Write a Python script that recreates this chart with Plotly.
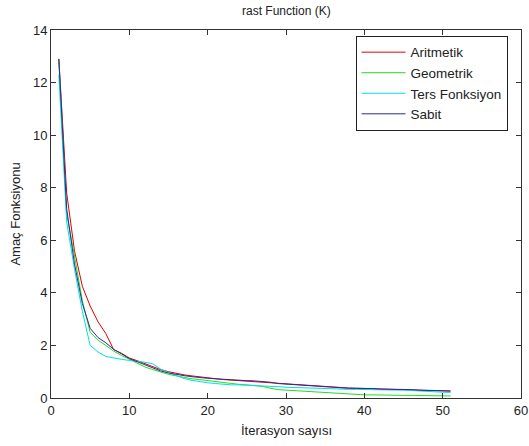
import plotly.graph_objects as go

iterations = list(range(1, 52))

aritmetik = [12.9, 7.8, 5.6, 4.25, 3.5, 2.9, 2.45, 1.84, 1.7, 1.52,
             1.42, 1.3, 1.2, 1.08, 1.0, 0.93, 0.88, 0.84, 0.8, 0.76,
             0.73, 0.7, 0.68, 0.66, 0.64, 0.62, 0.6, 0.57, 0.54, 0.52,
             0.5, 0.48, 0.47, 0.45, 0.43, 0.42, 0.4, 0.38, 0.37, 0.36,
             0.35, 0.34, 0.34, 0.33, 0.32, 0.31, 0.3, 0.29, 0.28, 0.27, 0.26]

geometrik = [12.8, 7.0, 5.4, 3.7, 2.5, 2.2, 2.0, 1.78, 1.62, 1.47,
             1.32, 1.18, 1.08, 0.98, 0.9, 0.84, 0.78, 0.73, 0.7, 0.66,
             0.62, 0.58, 0.55, 0.52, 0.5, 0.47, 0.44, 0.37, 0.32, 0.3,
             0.28, 0.26, 0.25, 0.22, 0.2, 0.18, 0.16, 0.14, 0.13, 0.12,
             0.12, 0.11, 0.11, 0.1, 0.1, 0.1, 0.09, 0.09, 0.09, 0.08, 0.08]

ters = [12.3, 6.7, 4.9, 3.3, 2.0, 1.75, 1.58, 1.52, 1.47, 1.43,
        1.4, 1.36, 1.3, 1.1, 0.97, 0.84, 0.74, 0.67, 0.62, 0.58,
        0.55, 0.52, 0.5, 0.5, 0.49, 0.48, 0.47, 0.45, 0.43, 0.41,
        0.4, 0.38, 0.36, 0.35, 0.34, 0.34, 0.33, 0.33, 0.33, 0.32,
        0.32, 0.31, 0.31, 0.3, 0.3, 0.28, 0.27, 0.25, 0.23, 0.22, 0.21]

sabit = [12.9, 7.2, 5.1, 3.6, 2.65, 2.3, 2.1, 1.85, 1.68, 1.5,
         1.38, 1.26, 1.13, 1.03, 0.95, 0.89, 0.85, 0.81, 0.77, 0.75,
         0.73, 0.71, 0.68, 0.67, 0.66, 0.65, 0.63, 0.6, 0.55, 0.53,
         0.52, 0.5, 0.48, 0.44, 0.43, 0.42, 0.4, 0.37, 0.37, 0.37,
         0.36, 0.34, 0.34, 0.34, 0.33, 0.32, 0.3, 0.29, 0.28, 0.28, 0.27]

series_names = ["Aritmetik", "Geometrik", "Ters Fonksiyon", "Sabit"]
series_values = [aritmetik, geometrik, ters, sabit]
series_colors = ["#e00000", "#22dd22", "#00e0e0", "#2a2a9a"]

x_ticks = [0, 10, 20, 30, 40, 50, 60]
y_ticks = [0, 2, 4, 6, 8, 10, 12, 14]

title_text = "rast Function (K)"
x_label = "İterasyon sayısı"
y_label = "Amaç Fonksiyonu"

FONT = "Liberation Sans, Arial, sans-serif"
TXT = "#222222"

fig = go.Figure()
for name, vals, col in zip(series_names, series_values, series_colors):
    fig.add_trace(go.Scatter(x=iterations, y=vals, mode="lines", name=name,
                             line=dict(color=col, width=1)))

axis_common = dict(showgrid=False, zeroline=False, showline=True, linecolor="#333333",
                   linewidth=1, mirror="ticks", ticks="inside", ticklen=5,
                   tickcolor="#333333", automargin=False, ticklabeloverflow="allow",
                   tickfont=dict(family=FONT, size=13, color=TXT))

fig.update_layout(
    width=529, height=446,
    margin=dict(l=50.5, r=7.5, t=30, b=48),
    paper_bgcolor="white", plot_bgcolor="white",
    font=dict(family=FONT, size=13, color=TXT),
    xaxis=dict(range=[0, 60], tickvals=x_ticks, **axis_common),
    yaxis=dict(range=[0, 14], tickvals=y_ticks, **axis_common),
    legend=dict(x=0.648, y=0.984, xanchor="left", yanchor="top",
                bgcolor="white", bordercolor="#222222", borderwidth=1,
                font=dict(family=FONT, size=13.5, color=TXT), tracegroupgap=0,
                itemwidth=44),
    showlegend=True,
    annotations=[
        dict(text=title_text, xref="paper", yref="paper", x=0.5, y=1.052,
             xanchor="center", yanchor="middle", showarrow=False,
             font=dict(family=FONT, size=12, color=TXT)),
        dict(text=x_label, xref="paper", yref="paper", x=0.5, y=-0.087,
             xanchor="center", yanchor="middle", showarrow=False,
             font=dict(family=FONT, size=13, color=TXT)),
        dict(text=y_label, xref="paper", yref="paper", x=-0.0774, y=0.5,
             xanchor="center", yanchor="middle", showarrow=False, textangle=-90,
             font=dict(family=FONT, size=13, color=TXT)),
    ],
)

fig.write_html(
    "out.html",
    config={"displayModeBar": False},
    post_script="document.body.style.margin='0';document.body.style.overflow='hidden';",
)
